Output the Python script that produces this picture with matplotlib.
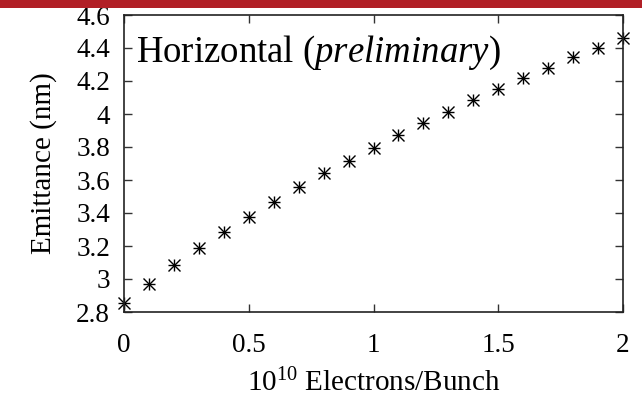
import matplotlib
matplotlib.use('Agg')
import matplotlib.pyplot as plt
from matplotlib.patches import Rectangle
from matplotlib.ticker import FormatStrFormatter

plt.rcParams['font.family'] = 'Liberation Serif'
plt.rcParams['mathtext.fontset'] = 'custom'
plt.rcParams['mathtext.rm'] = 'Liberation Serif'
plt.rcParams['mathtext.it'] = 'Liberation Serif:italic'

# Bunch charge (1e10 electrons) and measured horizontal emittance (nm)
charge = [0.0, 0.1, 0.2, 0.3, 0.4, 0.5, 0.6, 0.7, 0.8, 0.9, 1.0,
          1.1, 1.2, 1.3, 1.4, 1.5, 1.6, 1.7, 1.8, 1.9, 2.0]
emittance = [2.856, 2.970, 3.083, 3.186, 3.285, 3.378, 3.469, 3.556, 3.640, 3.717, 3.794,
             3.870, 3.944, 4.010, 4.085, 4.150, 4.216, 4.277, 4.344, 4.402, 4.463]

x_ticks = [0, 0.5, 1, 1.5, 2]
y_ticks = [2.8, 3.0, 3.2, 3.4, 3.6, 3.8, 4.0, 4.2, 4.4, 4.6]

fig = plt.figure(figsize=(6.42, 4.01), dpi=100)
ax = fig.add_axes([124/642, 89/401, 499/642, 297/401])

# red banner strip along the top edge
fig.patches.append(Rectangle((0, 393/401), 1, 8/401, transform=fig.transFigure,
                             facecolor='#b11f26', edgecolor='none'))

# gnuplot-style asterisk: plus and cross on top of each other
ax.plot(charge, emittance, ls='none', marker='+', ms=9, mew=1.0, color='k', clip_on=False)
ax.plot(charge, emittance, ls='none', marker='x', ms=9, mew=1.0, color='k', clip_on=False)

ax.set_xlim(0, 2)
ax.set_ylim(2.8, 4.6)
ax.set_xticks(x_ticks)
ax.set_yticks(y_ticks)
ax.xaxis.set_major_formatter(FormatStrFormatter('%g'))
ax.yaxis.set_major_formatter(FormatStrFormatter('%g'))
ax.tick_params(direction='in', length=6, width=1, top=True, right=True,
               labelsize=19.5, color='#333333')
ax.tick_params(axis='x', pad=15)
ax.tick_params(axis='y', pad=10)
for s in ax.spines.values():
    s.set_linewidth(1.2)
    s.set_color('#222222')

ax.set_xlabel(r'$10^{10}$ Electrons/Bunch', fontsize=21, labelpad=8)
ax.set_ylabel('Emittance (nm)', fontsize=21, labelpad=14)

ax.text(0.024, 0.843, r'Horizontal ($\it{preliminary}$)', transform=ax.transAxes,
        fontsize=26.5, va='baseline', ha='left')

fig.savefig('out.png', dpi=100)
